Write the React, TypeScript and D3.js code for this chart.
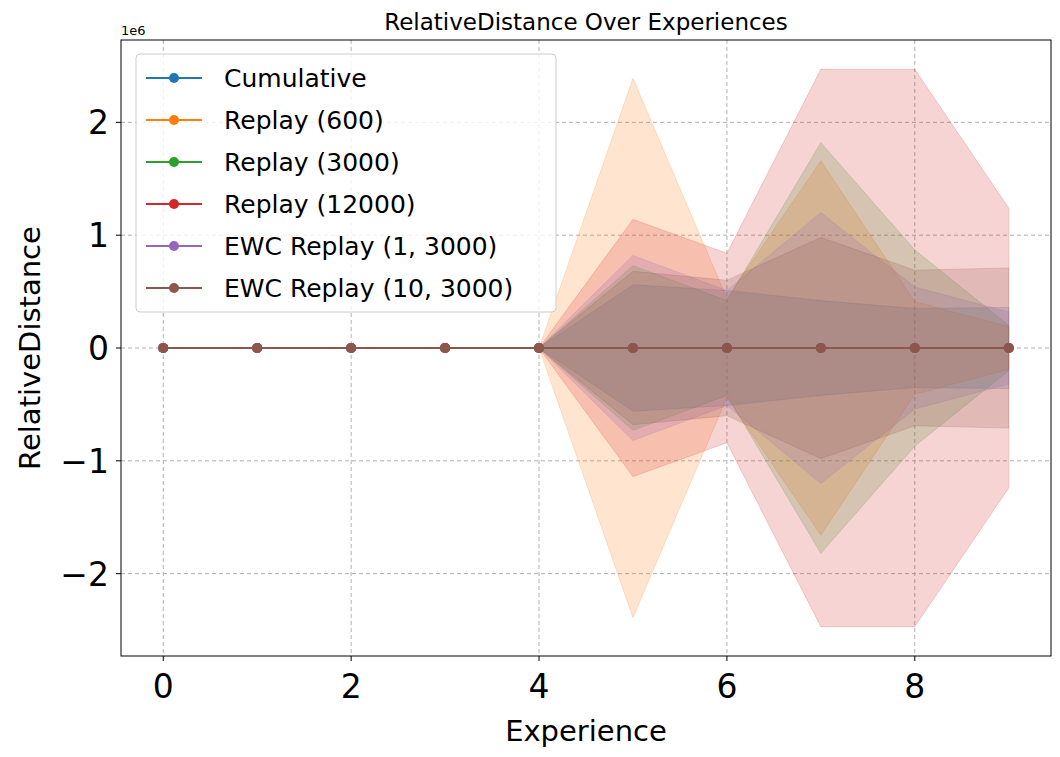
import * as d3 from 'd3';
import { useEffect, useRef } from 'react';

const experiences = [0, 1, 2, 3, 4, 5, 6, 7, 8, 9];
const seriesNames = ['Cumulative', 'Replay (600)', 'Replay (3000)', 'Replay (12000)', 'EWC Replay (1, 3000)', 'EWC Replay (10, 3000)'];
const colors = ['#1f77b4', '#ff7f0e', '#2ca02c', '#d62728', '#9467bd', '#8c564b'];
const means = [
    [0, 0, 0, 0, 0, 0, 0, 0, 0, 0],
    [0, 0, 0, 0, 0, 0, 0, 0, 0, 0],
    [0, 0, 0, 0, 0, 0, 0, 0, 0, 0],
    [0, 0, 0, 0, 0, 0, 0, 0, 0, 0],
    [0, 0, 0, 0, 0, 0, 0, 0, 0, 0],
    [0, 0, 0, 0, 0, 0, 0, 0, 0, 0],
];
// std in units of 1e6
const stds = [
    [0, 0, 0, 0, 0, 0.56, 0.51, 0.42, 0.35, 0.36],
    [0, 0, 0, 0, 0, 2.39, 0.44, 1.66, 0.41, 0.19],
    [0, 0, 0, 0, 0, 0.73, 0.42, 1.82, 0.87, 0.2],
    [0, 0, 0, 0, 0, 1.14, 0.84, 2.47, 2.47, 1.24],
    [0, 0, 0, 0, 0, 0.82, 0.51, 1.2, 0.54, 0.32],
    [0, 0, 0, 0, 0, 0.68, 0.6, 0.98, 0.69, 0.71],
];
const yTicks = [-2, -1, 0, 1, 2];
const xTicks = [0, 2, 4, 6, 8];

const App = () => {
    const ref = useRef<SVGSVGElement>(null);

    useEffect(() => {
        const svg: any = d3.select(ref.current);
        svg.selectAll('*').remove();
        const left = 121, right = 1051, top = 40, bottom = 656;
        const x = d3.scaleLinear().domain([-0.45, 9.45]).range([left, right]);
        const y = d3.scaleLinear().domain([-2.73, 2.73]).range([bottom, top]);
        const font = 'DejaVu Sans, sans-serif';

        // grid
        svg.append('g').selectAll('line').data(xTicks).enter().append('line')
            .attr('x1', (d: any) => x(d)).attr('x2', (d: any) => x(d))
            .attr('y1', top).attr('y2', bottom)
            .attr('stroke', '#b0b0b0').attr('stroke-dasharray', '4,3');
        svg.append('g').selectAll('line').data(yTicks).enter().append('line')
            .attr('y1', (d: any) => y(d)).attr('y2', (d: any) => y(d))
            .attr('x1', left).attr('x2', right)
            .attr('stroke', '#b0b0b0').attr('stroke-dasharray', '4,3');

        const area: any = d3.area()
            .x((d: any) => x(d.x)).y0((d: any) => y(d.m - d.s)).y1((d: any) => y(d.m + d.s));
        const line: any = d3.line().x((d: any) => x(d.x)).y((d: any) => y(d.m));

        seriesNames.forEach((_, i) => {
            const pts = experiences.map((e, j) => ({ x: e, m: means[i][j], s: stds[i][j] }));
            svg.append('path').attr('d', area(pts))
                .attr('fill', colors[i]).attr('fill-opacity', 0.2)
                .attr('stroke', colors[i]).attr('stroke-opacity', 0.2);
        });
        seriesNames.forEach((_, i) => {
            const pts = experiences.map((e, j) => ({ x: e, m: means[i][j], s: stds[i][j] }));
            svg.append('path').attr('d', line(pts)).attr('fill', 'none')
                .attr('stroke', colors[i]).attr('stroke-width', 2);
            svg.append('g').selectAll('circle').data(pts).enter().append('circle')
                .attr('cx', (d: any) => x(d.x)).attr('cy', (d: any) => y(d.m)).attr('r', 5)
                .attr('fill', colors[i]);
        });

        // frame
        svg.append('rect').attr('x', left).attr('y', top).attr('width', right - left).attr('height', bottom - top)
            .attr('fill', 'none').attr('stroke', '#000');

        // ticks
        xTicks.forEach((t) => {
            svg.append('line').attr('x1', x(t)).attr('x2', x(t)).attr('y1', bottom).attr('y2', bottom + 5).attr('stroke', '#000');
            svg.append('text').attr('x', x(t)).attr('y', bottom + 42).attr('text-anchor', 'middle')
                .style('font-family', font).style('font-size', '33px').text(t);
        });
        yTicks.forEach((t) => {
            svg.append('line').attr('x1', left - 5).attr('x2', left).attr('y1', y(t)).attr('y2', y(t)).attr('stroke', '#000');
            svg.append('text').attr('x', left - 12).attr('y', y(t) + 12).attr('text-anchor', 'end')
                .style('font-family', font).style('font-size', '33px').text(t < 0 ? '\u2212' + Math.abs(t) : t);
        });
        svg.append('text').attr('x', left).attr('y', top - 5).style('font-family', font).style('font-size', '13px').text('1e6');

        svg.append('text').attr('x', (left + right) / 2).attr('y', 30).attr('text-anchor', 'middle')
            .style('font-family', font).style('font-size', '23px').text('RelativeDistance Over Experiences');
        svg.append('text').attr('x', (left + right) / 2).attr('y', 741).attr('text-anchor', 'middle')
            .style('font-family', font).style('font-size', '29px').text('Experience');
        svg.append('text').attr('transform', `translate(40,${(top + bottom) / 2}) rotate(-90)`).attr('text-anchor', 'middle')
            .style('font-family', font).style('font-size', '29px').text('RelativeDistance');

        // legend
        const lg = svg.append('g');
        lg.append('rect').attr('x', 136).attr('y', 54).attr('width', 420).attr('height', 258).attr('rx', 4)
            .attr('fill', 'white').attr('fill-opacity', 0.8).attr('stroke', '#ccc');
        seriesNames.forEach((n, i) => {
            const cy = 78 + i * 42;
            lg.append('line').attr('x1', 146).attr('x2', 202).attr('y1', cy).attr('y2', cy).attr('stroke', colors[i]).attr('stroke-width', 2);
            lg.append('circle').attr('cx', 174).attr('cy', cy).attr('r', 5).attr('fill', colors[i]);
            lg.append('text').attr('x', 224).attr('y', cy + 9).style('font-family', font).style('font-size', '25px').text(n);
        });
    }, []);

    return <svg ref={ref} width={1060} height={757} style={{ display: 'block', margin: -8 }} />;
};

export default App;
